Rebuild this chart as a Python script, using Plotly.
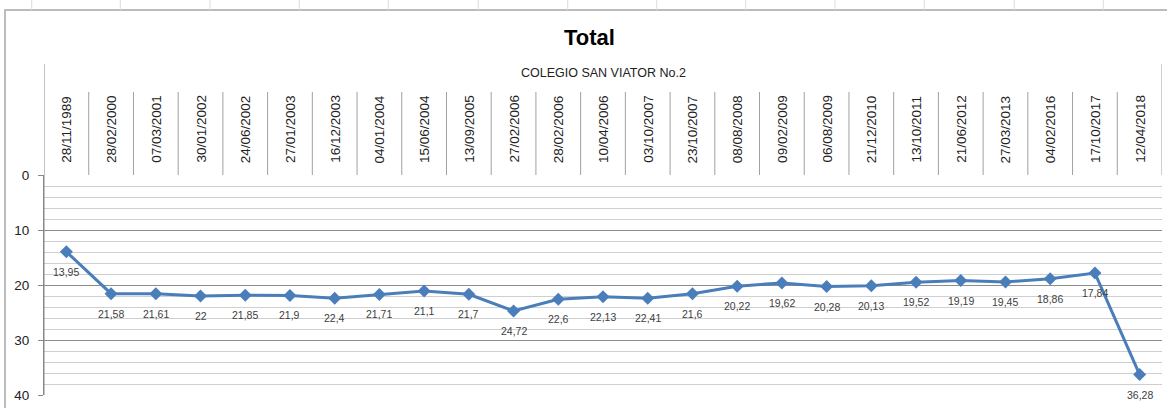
import plotly.graph_objects as go

dates = ["28/11/1989", "28/02/2000", "07/03/2001", "30/01/2002", "24/06/2002",
         "27/01/2003", "16/12/2003", "04/01/2004", "15/06/2004", "13/09/2005",
         "27/02/2006", "28/02/2006", "10/04/2006", "03/10/2007", "23/10/2007",
         "08/08/2008", "09/02/2009", "06/08/2009", "21/12/2010", "13/10/2011",
         "21/06/2012", "27/03/2013", "04/02/2016", "17/10/2017", "12/04/2018"]
values = [13.95, 21.58, 21.61, 22, 21.85, 21.9, 22.4, 21.71, 21.1, 21.7,
          24.72, 22.6, 22.13, 22.41, 21.6, 20.22, 19.62, 20.28, 20.13, 19.52,
          19.19, 19.45, 18.86, 17.84, 36.28]
labels = [f"{v:g}".replace(".", ",") for v in values]
title_text = "Total"
subtitle_text = "COLEGIO SAN VIATOR No.2"

W, H = 1167, 408
L, R, T, B = 44, 5, 175, 13
PH = H - T - B  # plot height in px
PW = W - L - R

def py(p):  # pixel y -> paper y
    return (H - B - p) / PH

def px(p):  # pixel x -> paper x
    return (p - L) / PW

xs = list(range(len(dates)))
LINE = "#4a7ebb"
GRID = "#a0a0a0"

fig = go.Figure()
fig.add_trace(go.Scatter(
    x=xs, y=values, mode="lines+markers",
    line=dict(color=LINE, width=3),
    marker=dict(symbol="diamond", size=10, color=LINE),
    hoverinfo="skip", showlegend=False,
))

annotations = []
for i, (v, lab) in enumerate(zip(values, labels)):
    annotations.append(dict(x=i, y=v, xref="x", yref="y", text=lab, showarrow=False,
                            yshift=-20, font=dict(family="Liberation Sans", size=10.5, color="#404040")))
for i, d in enumerate(dates):
    annotations.append(dict(x=i, y=py(165), xref="x", yref="paper", text=d, showarrow=False,
                            textangle=-90, yanchor="bottom", xanchor="center",
                            font=dict(family="Liberation Sans", size=13.5, color="#222222")))
annotations.append(dict(x=px(589), y=py(38), xref="paper", yref="paper", text="<b>" + title_text + "</b>",
                        showarrow=False, xanchor="center", yanchor="middle",
                        font=dict(family="Liberation Sans", size=22, color="#000000")))
annotations.append(dict(x=px(603.5), y=py(73), xref="paper", yref="paper", text=subtitle_text,
                        showarrow=False, xanchor="center", yanchor="middle",
                        font=dict(family="Liberation Sans", size=12.5, color="#222222")))

shapes = []
# category dividers in header
for i in range(len(dates) - 1):
    shapes.append(dict(type="line", xref="x", yref="paper", x0=i + 0.5, x1=i + 0.5,
                       y0=1, y1=py(92), line=dict(color=GRID, width=1)))
# outer header verticals
shapes.append(dict(type="line", xref="x", yref="paper", x0=-0.5, x1=-0.5,
                   y0=0, y1=py(64), line=dict(color="#888888", width=1)))
shapes.append(dict(type="line", xref="x", yref="paper", x0=len(dates) - 0.5, x1=len(dates) - 0.5,
                   y0=1, y1=py(64), line=dict(color=GRID, width=1)))
# chart frame
shapes.append(dict(type="rect", xref="paper", yref="paper", x0=px(5), x1=px(1175),
                   y0=py(420), y1=py(10), line=dict(color="#a6a6a6", width=1.5)))
# spreadsheet column marks at top
for cx in [31.7, 120.3, 210, 299.3, 388.3, 478.3, 567.7, 656.7, 745.7, 835, 924.3, 1014.3, 1103.3]:
    shapes.append(dict(type="line", xref="paper", yref="paper", x0=px(cx), x1=px(cx),
                       y0=py(10), y1=py(0), line=dict(color="#dddddd", width=1)))

fig.update_layout(
    width=W, height=H,
    margin=dict(l=L, r=R, t=T, b=B),
    paper_bgcolor="white", plot_bgcolor="white",
    annotations=annotations, shapes=shapes,
    xaxis=dict(range=[-0.5, len(dates) - 0.5], showgrid=False, showticklabels=False,
               zeroline=False, showline=False, ticks=""),
    yaxis=dict(range=[40, 0], tickvals=[0, 10, 20, 30, 40], showgrid=True,
               gridcolor="#8c8c8c", gridwidth=1, zeroline=False,
               showline=True, linecolor="#888888", linewidth=1,
               ticks="outside", ticklen=5, tickcolor="#888888",
               ticklabelstandoff=6,
               tickfont=dict(family="Liberation Sans", size=13.5, color="#222222"),
               minor=dict(dtick=2, showgrid=True, gridcolor="#cfcfcf", gridwidth=1, ticks="")),
)

fig.write_html("out.html", config={"displayModeBar": False},
               post_script="document.body.style.margin='0';document.body.style.overflow='hidden';")
